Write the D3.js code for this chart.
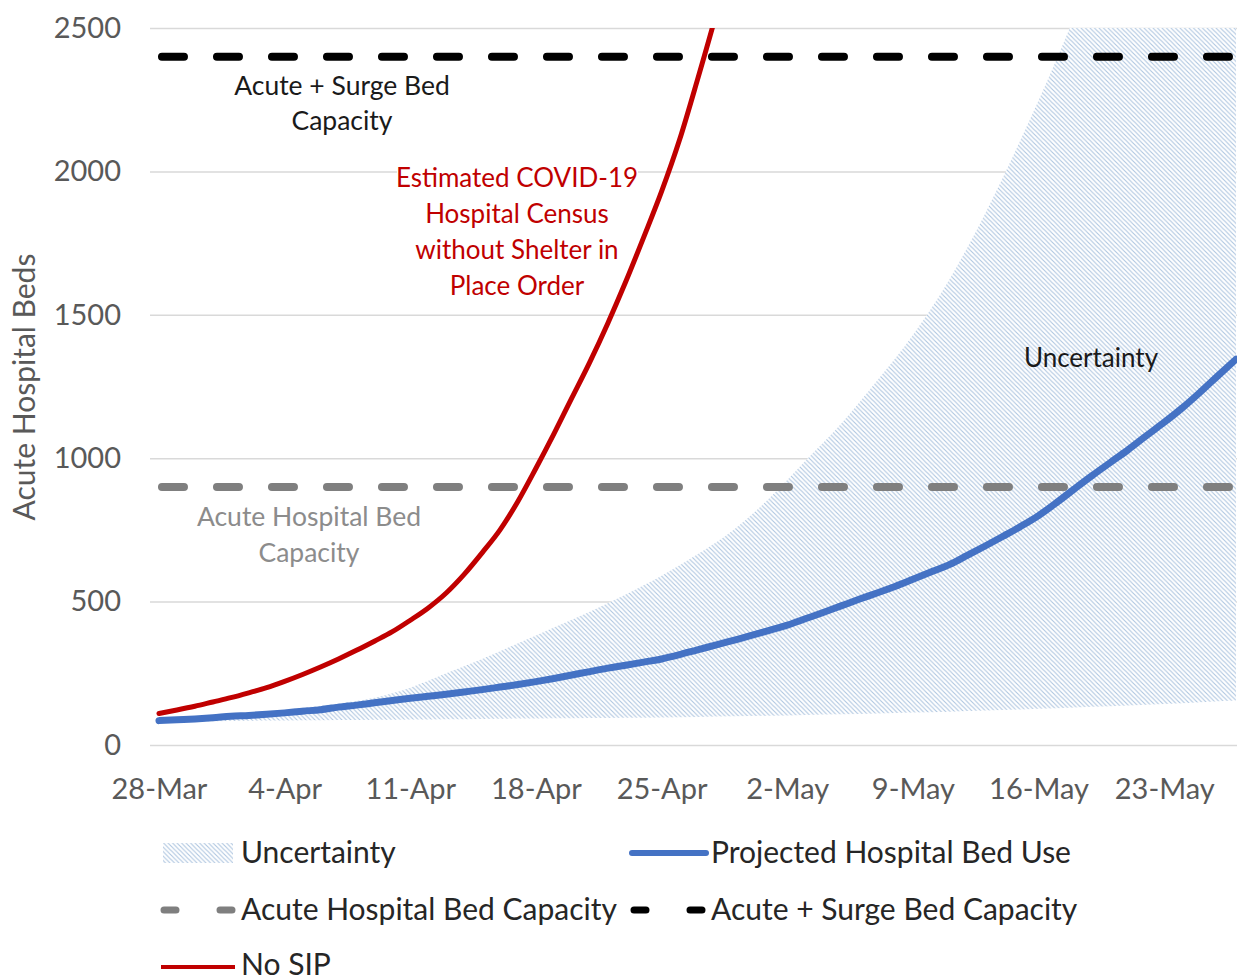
<!DOCTYPE html>
<html>
<head>
<meta charset="utf-8">
<script src="https://cdn.jsdelivr.net/npm/d3@7"></script>
<style>
  html, body { margin: 0; padding: 0; background: #ffffff; }
  svg { display: block; font-family: Lato, "Open Sans", sans-serif; }
</style>
</head>
<body>
<svg id="chart" width="1237" height="980"></svg>
<script>
// ---------------- DATA ----------------
const startLabel = "28-Mar-2020";
const xTickLabels = ["28-Mar", "4-Apr", "11-Apr", "18-Apr", "25-Apr", "2-May", "9-May", "16-May", "23-May"];
const yTickValues = [0, 500, 1000, 1500, 2000, 2500];

// Projected Hospital Bed Use (daily from 28-Mar)
const projectedBeds = [85, 88, 91, 95, 100, 103, 107, 112, 118, 123,
  132, 139, 147, 155, 163, 170, 177, 185, 193, 202,
  211, 221, 232, 244, 256, 268, 278, 289, 300, 315,
  332, 348, 365, 382, 400, 418, 440, 462, 485, 508,
  530, 553, 578, 603, 628, 660, 693, 727, 762, 800,
  845, 893, 940, 985, 1030, 1078, 1125, 1175, 1230, 1288, 1345];

// No SIP (daily from 28-Mar)
const noSipBeds = [110, 122, 135, 150, 165, 182, 200, 222, 246, 272,
  300, 330, 362, 395, 435, 478, 530, 595, 670, 750,
  850, 965, 1085, 1210, 1335, 1470, 1615, 1770, 1930, 2110,
  2320, 2540, 2780];

// Uncertainty band (every 2 days from 28-Mar)
const bandDayOffsets = [0, 2, 4, 6, 8, 10, 12, 14, 16, 18, 20, 22, 24, 26, 28, 30,
  32, 34, 36, 38, 40, 42, 44, 46, 48, 50, 52, 54, 56, 58, 60];
const uncertaintyLow = [80, 82, 84, 85, 86, 87, 88, 89, 90, 91, 92, 93, 94, 95, 96, 98,
  100, 102, 105, 107, 110, 113, 116, 120, 124, 128, 133, 138, 143, 149, 155];
const uncertaintyHigh = [85, 95, 105, 115, 130, 145, 165, 200, 250, 300, 355, 410, 465, 525, 590, 665,
  750, 860, 990, 1120, 1270, 1430, 1620, 1850, 2110, 2390, 2700, 3050, 3450, 3900, 4400];

const acuteCapacity = 900;
const surgeCapacity = 2400;

const legendLabels = ["Uncertainty", "Projected Hospital Bed Use", "Acute Hospital Bed Capacity", "Acute + Surge Bed Capacity", "No SIP"];

// ---------------- SETUP ----------------
const svg = d3.select("#chart");
const parse = d3.timeParse("%d-%b-%Y");
const start = parse(startLabel);
const dayDate = i => d3.timeDay.offset(start, i);
const halfDay = 12 * 3600 * 1000;
const endDate = dayDate(projectedBeds.length - 1);

const plotLeft = 150, plotRight = 1237, plotTop = 28, plotBottom = 745;
const x = d3.scaleTime()
  .domain([new Date(+start - halfDay), new Date(+endDate + halfDay)])
  .range([150, 1245]);
const y = d3.scaleLinear().domain([0, 2500]).range([plotBottom, plotTop]);

const defs = svg.append("defs");
const pat = defs.append("pattern")
  .attr("id", "hatch").attr("patternUnits", "userSpaceOnUse")
  .attr("width", 4.5).attr("height", 4.5);
pat.append("rect").attr("width", 4.5).attr("height", 4.5).attr("fill", "#ffffff");
pat.append("path").attr("d", "M-1,-1 L5.5,5.5 M-1,3.5 L1,5.5 M3.5,-1 L5.5,1")
  .attr("stroke", "#adc5e0").attr("stroke-width", 1.1);

defs.append("clipPath").attr("id", "plotClip").append("rect")
  .attr("x", plotLeft).attr("y", plotTop)
  .attr("width", plotRight - plotLeft).attr("height", plotBottom - plotTop);

// ---------------- AXES / GRID ----------------
const yAxis = d3.axisLeft(y).tickValues(yTickValues)
  .tickSize(-(plotRight - plotLeft)).tickPadding(29).tickFormat(d3.format("d"));
const gy = svg.append("g").attr("transform", `translate(${plotLeft},0)`).call(yAxis);
gy.select(".domain").remove();
gy.selectAll(".tick line").attr("stroke", "#d9d9d9").attr("stroke-width", 1.5);
gy.selectAll(".tick text").attr("fill", "#595959").attr("font-size", 29)
  .attr("font-family", "Lato, 'Open Sans', sans-serif");

const tickDates = xTickLabels.map(l => parse(l + "-2020"));
const xAxis = d3.axisBottom(x).tickValues(tickDates).tickSize(0).tickPadding(33)
  .tickFormat(d3.timeFormat("%-d-%b"));
const gx = svg.append("g").attr("transform", `translate(0,${plotBottom})`).call(xAxis);
gx.select(".domain").remove();
gx.selectAll(".tick text").attr("fill", "#595959").attr("font-size", 29)
  .attr("font-family", "Lato, 'Open Sans', sans-serif");

svg.append("text")
  .attr("transform", "translate(35,387) rotate(-90)")
  .attr("text-anchor", "middle")
  .attr("fill", "#595959").attr("font-size", 30)
  .text("Acute Hospital Beds");

// white label box behind red annotation (hides gridline only)
svg.append("rect").attr("x", 397).attr("y", 160).attr("width", 241).attr("height", 145).attr("fill", "#ffffff");

// ---------------- SERIES ----------------
const plot = svg.append("g").attr("clip-path", "url(#plotClip)");

const band = bandDayOffsets.map((d, i) => ({ date: dayDate(d), lo: uncertaintyLow[i], hi: uncertaintyHigh[i] }));
plot.append("path")
  .datum(band)
  .attr("fill", "url(#hatch)")
  .attr("d", d3.area().x(d => x(d.date)).y0(d => y(d.lo)).y1(d => y(d.hi)).curve(d3.curveMonotoneX));

const capLine = v => d3.line()([[x(start), y(v)], [plotRight + 10, y(v)]]);
plot.append("path").attr("d", capLine(acuteCapacity))
  .attr("stroke", "#7f7f7f").attr("stroke-width", 8).attr("fill", "none")
  .attr("stroke-linecap", "round").attr("stroke-dasharray", "22 33")
  .attr("transform", "translate(3,0)");
plot.append("path").attr("d", capLine(surgeCapacity))
  .attr("stroke", "#000000").attr("stroke-width", 8).attr("fill", "none")
  .attr("stroke-linecap", "round").attr("stroke-dasharray", "22 33")
  .attr("transform", "translate(3,0)");

const lineGen = d3.line().x((d, i) => x(dayDate(i))).y(d => y(d)).curve(d3.curveMonotoneX);
plot.append("path").datum(projectedBeds).attr("d", lineGen)
  .attr("fill", "none").attr("stroke", "#4472c4").attr("stroke-width", 7)
  .attr("stroke-linecap", "round").attr("stroke-linejoin", "round");
plot.append("path").datum(noSipBeds).attr("d", lineGen)
  .attr("fill", "none").attr("stroke", "#c00000").attr("stroke-width", 5)
  .attr("stroke-linecap", "round").attr("stroke-linejoin", "round");

// ---------------- ANNOTATIONS ----------------
function multiline(lines, cx, firstBaseline, lineH, color, size) {
  const t = svg.append("text").attr("text-anchor", "middle").attr("fill", color).attr("font-size", size);
  lines.forEach((l, i) => t.append("tspan").attr("x", cx).attr("y", firstBaseline + i * lineH).text(l));
  return t;
}
multiline(["Acute + Surge Bed", "Capacity"], 342, 95, 35, "#1a1a1a", 26.5);
multiline(["Estimated COVID-19", "Hospital Census", "without Shelter in", "Place Order"], 517, 187, 36, "#c00000", 26);
multiline(["Acute Hospital Bed", "Capacity"], 309, 526, 36, "#8c8c8c", 26.5);
multiline(["Uncertainty"], 1091, 367, 36, "#1a1a1a", 26);

// ---------------- LEGEND ----------------
const leg = svg.append("g").attr("font-size", 30).attr("fill", "#262626");
// row 1
leg.append("rect").attr("x", 163).attr("y", 843).attr("width", 70).attr("height", 20).attr("fill", "url(#hatch)");
leg.append("text").attr("x", 241).attr("y", 863).text(legendLabels[0]);
leg.append("line").attr("x1", 632).attr("x2", 706).attr("y1", 853).attr("y2", 853)
  .attr("stroke", "#4472c4").attr("stroke-width", 6).attr("stroke-linecap", "round");
leg.append("text").attr("x", 711).attr("y", 863).text(legendLabels[1]);
// row 2
leg.append("line").attr("x1", 164).attr("x2", 232).attr("y1", 910).attr("y2", 910)
  .attr("stroke", "#7f7f7f").attr("stroke-width", 7).attr("stroke-linecap", "round").attr("stroke-dasharray", "12 44");
leg.append("text").attr("x", 241).attr("y", 920).text(legendLabels[2]);
leg.append("line").attr("x1", 634).attr("x2", 702).attr("y1", 910).attr("y2", 910)
  .attr("stroke", "#000000").attr("stroke-width", 7).attr("stroke-linecap", "round").attr("stroke-dasharray", "12 44");
leg.append("text").attr("x", 711).attr("y", 920).text(legendLabels[3]);
// row 3
leg.append("line").attr("x1", 161).attr("x2", 235).attr("y1", 967).attr("y2", 967)
  .attr("stroke", "#c00000").attr("stroke-width", 4);
leg.append("text").attr("x", 241).attr("y", 975).text(legendLabels[4]);
</script>
</body>
</html>
